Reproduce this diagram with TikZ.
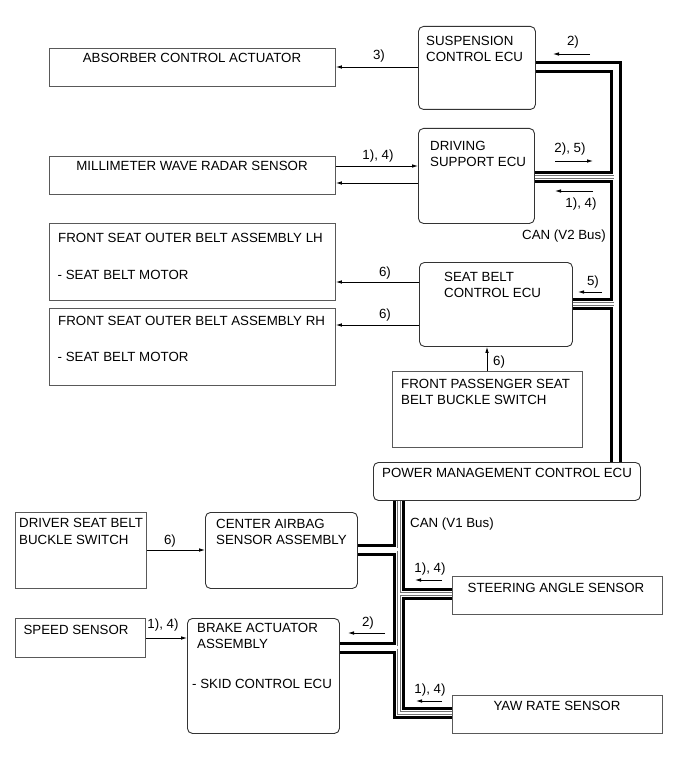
\documentclass[tikz,border=0pt]{standalone}
\usepackage{fontspec}
\setmainfont{Liberation Sans}
\usetikzlibrary{arrows.meta,backgrounds,calc}
\begin{document}
\begin{tikzpicture}[x=1pt,y=-1pt,
  pbox/.style={draw=black!65,line width=0.9pt,inner sep=0,anchor=north west},
  rbox/.style={draw=black!80,line width=0.9pt,rounded corners=5pt,inner sep=0,anchor=north west},
  txt/.style={inner sep=0,font=\fontsize{13.3}{16}\selectfont},
  arr/.style={-{Latex[length=6pt,width=3.6pt]},line width=0.8pt},
  busA/.style={draw=black,line width=12pt,line join=miter},
  busB/.style={draw=white,line width=6pt,line join=miter},
  busC/.style={draw=black!55,line width=0.6pt,double=white,double distance=2.2pt,line join=miter},
  vtwo/.style={insert path={
    (susp.east |- 0,67.5) -- (v2a) -- (pmc.north -| v2a)
    (drv.east |- 0,177) -- (v2a |- 0,177)
    (sbe.east |- 0,304) -- (v2a |- 0,304)}},
  vone/.style={insert path={
    (pmc.south -| v1a) -- (v1b) -- (yaw.west |- v1b)
    (cas.east |- 0,549.5) -- (v1a |- 0,549.5)
    (v1a |- 0,594) -- (steer.west |- 0,594)
    (brake.east |- 0,647.5) -- (v1a |- 0,647.5)}}]
\useasboundingbox (0,0) rectangle (691,757);

% boxes
\node[pbox,minimum width=286pt,minimum height=38pt] (abs) at (49,48) {};
\node[rbox,minimum width=117pt,minimum height=83pt] (susp) at (418,26) {};
\node[rbox,minimum width=116pt,minimum height=95pt] (drv) at (418,128) {};
\node[pbox,minimum width=286pt,minimum height=38pt] (radar) at (49,156) {};
\node[pbox,minimum width=286pt,minimum height=77pt] (lh) at (49,223) {};
\node[pbox,minimum width=286pt,minimum height=77pt] (rh) at (49,308) {};
\node[rbox,minimum width=153pt,minimum height=84pt] (sbe) at (419,262) {};
\node[pbox,minimum width=190pt,minimum height=76pt] (fps) at (392,371) {};
\node[rbox,minimum width=267pt,minimum height=38pt] (pmc) at (373,462) {};
\node[pbox,minimum width=131pt,minimum height=76pt] (driver) at (15,512) {};
\node[rbox,minimum width=152pt,minimum height=76pt] (cas) at (205,512) {};
\node[pbox,minimum width=130pt,minimum height=39pt] (speed) at (15,618) {};
\node[rbox,minimum width=152pt,minimum height=115pt] (brake) at (187,618) {};
\node[pbox,minimum width=210pt,minimum height=38pt] (steer) at (452,576) {};
\node[pbox,minimum width=210pt,minimum height=38pt] (yaw) at (452,695) {};

% bus coordinates
\coordinate (v2a) at (615.5,67.5);
\coordinate (v1a) at (399,500);
\coordinate (v1b) at (399,713);

\begin{pgfonlayer}{background}
  \draw[busA,vtwo];
  \draw[busA,vone];
  \draw[busB,vtwo];
  \draw[busB,vone];
  \draw[busC,vtwo];
  \draw[busC,vone];
\end{pgfonlayer}

% texts
\node[txt,anchor=base] (t1) at (192,63) {ABSORBER CONTROL ACTUATOR};
\node[txt,anchor=base west] (t2) at (426,45.7) {SUSPENSION};
\node[txt,anchor=base west] (t3) at (426,61.7) {CONTROL ECU};
\node[txt,anchor=base] (l1) at (379,60) {3)};
\node[txt,anchor=base] (l2) at (573,45.7) {2)};
\node[txt,anchor=base west] (t4) at (430,150.7) {DRIVING};
\node[txt,anchor=base west] (t5) at (430,166.7) {SUPPORT ECU};
\node[txt,anchor=base] (t6) at (192,170) {MILLIMETER WAVE RADAR SENSOR};
\node[txt,anchor=base] (l3) at (378,159) {1), 4)};
\node[txt,anchor=base] (l4) at (570,153) {2), 5)};
\node[txt,anchor=base] (l5) at (581,207) {1), 4)};
\node[txt,anchor=base west] (c2) at (522,239) {CAN (V2 Bus)};
\node[txt,anchor=base west] (t7) at (58,242) {FRONT SEAT OUTER BELT ASSEMBLY LH};
\node[txt,anchor=base west] (t8) at (57.5,279) {- SEAT BELT MOTOR};
\node[txt,anchor=base] (l6) at (385,276) {6)};
\node[txt,anchor=base west] (t9) at (58,325) {FRONT SEAT OUTER BELT ASSEMBLY RH};
\node[txt,anchor=base west] (t10) at (57.5,361.7) {- SEAT BELT MOTOR};
\node[txt,anchor=base] (l7) at (385,318) {6)};
\node[txt,anchor=base west] (t11) at (444,281.7) {SEAT BELT};
\node[txt,anchor=base west] (t12) at (444,297.7) {CONTROL ECU};
\node[txt,anchor=base] (l8) at (593,285) {5)};
\node[txt,anchor=base west] (l9) at (493,365) {6)};
\node[txt,anchor=base west] (t13) at (401,388) {FRONT PASSENGER SEAT};
\node[txt,anchor=base west] (t14) at (401,404) {BELT BUCKLE SWITCH};
\node[txt,anchor=base west] (t15) at (382,477.7) {POWER MANAGEMENT CONTROL ECU};
\node[txt,anchor=base west] (t16) at (19,527) {DRIVER SEAT BELT};
\node[txt,anchor=base west] (t17) at (19,544) {BUCKLE SWITCH};
\node[txt,anchor=base] (l10) at (170,544) {6)};
\node[txt,anchor=base west] (t18) at (216,528) {CENTER AIRBAG};
\node[txt,anchor=base west] (t19) at (216,544) {SENSOR ASSEMBLY};
\node[txt,anchor=base west] (c1) at (410,527) {CAN (V1 Bus)};
\node[txt,anchor=base] (l11) at (430,572) {1), 4)};
\node[txt,anchor=base] (t20) at (556,592) {STEERING ANGLE SENSOR};
\node[txt,anchor=base] (t21) at (76,634) {SPEED SENSOR};
\node[txt,anchor=base] (l12) at (163,628) {1), 4)};
\node[txt,anchor=base west] (t22) at (197,632) {BRAKE ACTUATOR};
\node[txt,anchor=base west] (t23) at (197,648) {ASSEMBLY};
\node[txt,anchor=base west] (t24) at (192,688) {- SKID CONTROL ECU};
\node[txt,anchor=base] (l13) at (368,626) {2)};
\node[txt,anchor=base] (l14) at (430,693) {1), 4)};
\node[txt,anchor=base] (t25) at (557,710) {YAW RATE SENSOR};

% free arrow ends
\coordinate (a1s) at (590,54);   \coordinate (a1e) at (553,54);
\coordinate (a2s) at (555,161);  \coordinate (a2e) at (593,161);
\coordinate (a3s) at (593,191);  \coordinate (a3e) at (555,191);
\coordinate (a4s) at (602,292);  \coordinate (a4e) at (578,292);
\coordinate (a5s) at (442,580);  \coordinate (a5e) at (415,580);
\coordinate (a6s) at (385,633);  \coordinate (a6e) at (348,633);
\coordinate (a7s) at (442,701);  \coordinate (a7e) at (416,701);

% connectors
\draw[arr] (susp.west |- 0,67) -- (abs.east |- 0,67);
\draw[arr] (radar.east |- 0,166) -- (drv.west |- 0,166);
\draw[arr] (drv.west |- 0,183) -- (radar.east |- 0,183);
\draw[arr] (sbe.west |- 0,282) -- (lh.east |- 0,282);
\draw[arr] (sbe.west |- 0,325) -- (rh.east |- 0,325);
\draw[arr] (fps.north -| 487,0) -- (sbe.south -| 487,0);
\draw[arr] (driver.east |- 0,550) -- (cas.west |- 0,550);
\draw[arr] (speed.east |- 0,638) -- (brake.west |- 0,638);
\draw[arr] (a1s) -- (a1e);
\draw[arr] (a2s) -- (a2e);
\draw[arr] (a3s) -- (a3e);
\draw[arr] (a4s) -- (a4e);
\draw[arr] (a5s) -- (a5e);
\draw[arr] (a6s) -- (a6e);
\draw[arr] (a7s) -- (a7e);
\end{tikzpicture}
\end{document}
